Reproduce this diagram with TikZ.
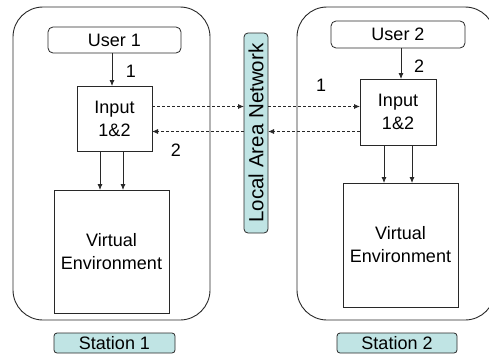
\documentclass[tikz,border=0pt]{standalone}
\usepackage{fontspec}
\usepackage{graphicx}
\setmainfont{Liberation Sans}
\usetikzlibrary{arrows.meta}
\definecolor{lancyan}{RGB}{192,228,228}
\definecolor{lineg}{RGB}{40,40,40}
\begin{document}
\begin{tikzpicture}[x=1pt,y=-1pt,
  font=\fontsize{18}{23}\selectfont,
  every node/.style={inner sep=0pt, outer sep=0pt},
  station/.style={draw=lineg, line width=0.9pt, rounded corners=30pt},
  userbox/.style={draw=lineg, line width=0.8pt, rounded corners=5pt, align=center},
  plainbox/.style={draw=lineg, line width=0.8pt, align=center},
  tagbox/.style={draw=lineg, line width=0.8pt, fill=lancyan, rounded corners=3pt},
  arr/.style={draw=lineg, line width=0.8pt, -{Latex[length=6pt,width=5pt]}},
  darr/.style={arr, dash pattern=on 3pt off 2pt},
  num/.style={}]
\useasboundingbox (0,0) rectangle (489,356);
\clip (0,0) rectangle (489,356);
% stations
\draw[station] (13,7) rectangle (210,320);
\draw[station] (297,7) rectangle (495,320);
% left side
\node[userbox, minimum width=133pt, minimum height=26pt] (user1) at (114.5,40) {User 1};
\node[plainbox, minimum width=75pt, minimum height=65pt] (in1) at (114.5,118.5) {Input\\1\&2};
\node[plainbox, minimum width=115pt, minimum height=123pt] (ve1) at (111.5,251.5) {Virtual\\Environment};
\node[tagbox, minimum width=121pt, minimum height=20pt] (lab1) at (114.5,343) {Station 1};
% LAN
\node[tagbox, rounded corners=4pt, minimum width=24pt, minimum height=200pt] (lan) at (256,133) {\rotatebox{90}{\fontsize{20.5}{24}\selectfont Local Area Network}};
% right side
\node[userbox, minimum width=134pt, minimum height=27pt] (user2) at (398,34.5) {User 2};
\node[plainbox, minimum width=76pt, minimum height=66pt] (in2) at (398,112) {Input\\1\&2};
\node[plainbox, minimum width=115pt, minimum height=124pt] (ve2) at (400.5,245) {Virtual\\Environment};
\node[tagbox, minimum width=120pt, minimum height=20pt] (lab2) at (397,343) {Station 2};
% helper levels
\coordinate (yup) at (0,106.5);
\coordinate (ydn) at (0,131.5);
% arrows user -> input
\draw[arr] ([xshift=-2.5pt]user1.south) -- ([xshift=-2.5pt]user1.south |- in1.north);
\draw[arr] ([xshift=3pt]user2.south) -- ([xshift=3pt]user2.south |- in2.north);
% input -> VE
\draw[arr] ([xshift=-14.5pt]in1.south) -- ([xshift=-14.5pt]in1.south |- ve1.north);
\draw[arr] ([xshift=8.5pt]in1.south) -- ([xshift=8.5pt]in1.south |- ve1.north);
\draw[arr] ([xshift=-14pt]in2.south) -- ([xshift=-14pt]in2.south |- ve2.north);
\draw[arr] ([xshift=14pt]in2.south) -- ([xshift=14pt]in2.south |- ve2.north);
% network dashed
\draw[darr] (in1.east |- yup) -- (lan.west |- yup);
\draw[darr] (lan.west |- ydn) -- (in1.east |- ydn);
\draw[darr] (lan.east |- yup) -- (in2.west |- yup);
\draw[darr] (in2.west |- ydn) -- (lan.east |- ydn);
% numbers
\node[num] (n1a) at (131,71) {1};
\node[num] (n2a) at (176,150) {2};
\node[num] (n2b) at (419,66) {2};
\node[num] (n1b) at (321,85.5) {1};
\end{tikzpicture}
\end{document}
